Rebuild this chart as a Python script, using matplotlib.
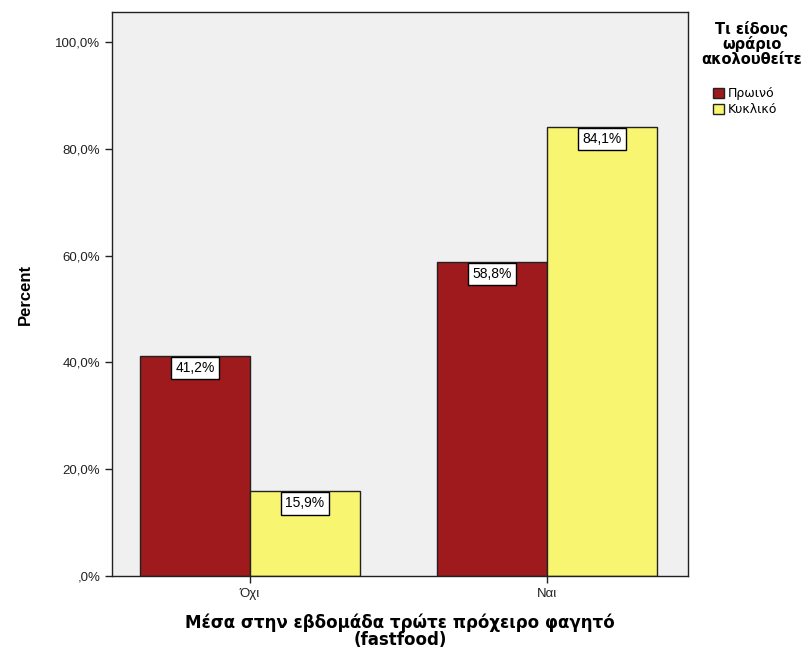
import numpy as np
import matplotlib.pyplot as plt

categories = ["Όχι", "Ναι"]
series = ["Πρωινό", "Κυκλικό"]
proino = [41.2, 58.8]
kykliko = [15.9, 84.1]
yticks = [0, 20, 40, 60, 80, 100]
ytick_labels = [",0%", "20,0%", "40,0%", "60,0%", "80,0%", "100,0%"]

fig = plt.figure(figsize=(8.09, 6.55), dpi=100)
ax = fig.add_axes([0.1384, 0.1206, 0.712, 0.861])
ax.set_facecolor("#f0f0f0")

x = np.arange(len(categories))
w = 0.37
colors = ["#9e1a1c", "#f8f571"]
for i, (vals, name) in enumerate(zip([proino, kykliko], series)):
    pos = x - w / 2 + i * w
    ax.bar(pos, vals, width=w, color=colors[i], edgecolor="#222222", linewidth=1, label=name, zorder=2)
    for p, v in zip(pos, vals):
        ax.text(p, v - 1.0, f"{v:.1f}%".replace(".", ","), ha="center", va="top",
                fontsize=10, family="Liberation Sans",
                bbox=dict(boxstyle="square,pad=0.3", facecolor="white", edgecolor="black", linewidth=1),
                zorder=3)

ax.set_xlim(-0.465, 1.475)
ax.set_ylim(0, 105.6)
ax.set_xticks(x)
ax.set_xticklabels(categories, family="Liberation Sans", fontsize=9.5)
ax.set_yticks(yticks)
ax.set_yticklabels(ytick_labels, family="Liberation Sans", fontsize=9.5)
ax.tick_params(axis="both", direction="out", length=5, width=1, colors="#222222")
for s in ax.spines.values():
    s.set_color("#222222")
    s.set_linewidth(1)

ax.set_ylabel("Percent", fontsize=12, fontweight="bold", family="Liberation Sans", labelpad=16)
ax.set_xlabel("Μέσα στην εβδομάδα τρώτε πρόχειρο φαγητό\n(fastfood)", fontsize=12,
              fontweight="bold", labelpad=10, linespacing=0.9)

# legend title drawn separately so the gap to the entries matches
fig.text(752 / 809, 1 - 21 / 655, "Τι είδους\nωράριο\nακολουθείτε", ha="center", va="top",
         fontsize=10.5, fontweight="bold", linespacing=0.95)
leg = fig.legend(loc="upper left", bbox_to_anchor=(708 / 809, 1 - 82 / 655), frameon=False,
                 handlelength=0.9, handleheight=0.9, handletextpad=0.3, labelspacing=0.25,
                 borderaxespad=0, prop={"family": "DejaVu Sans", "size": 9})

fig.savefig("out.png", dpi=100)
